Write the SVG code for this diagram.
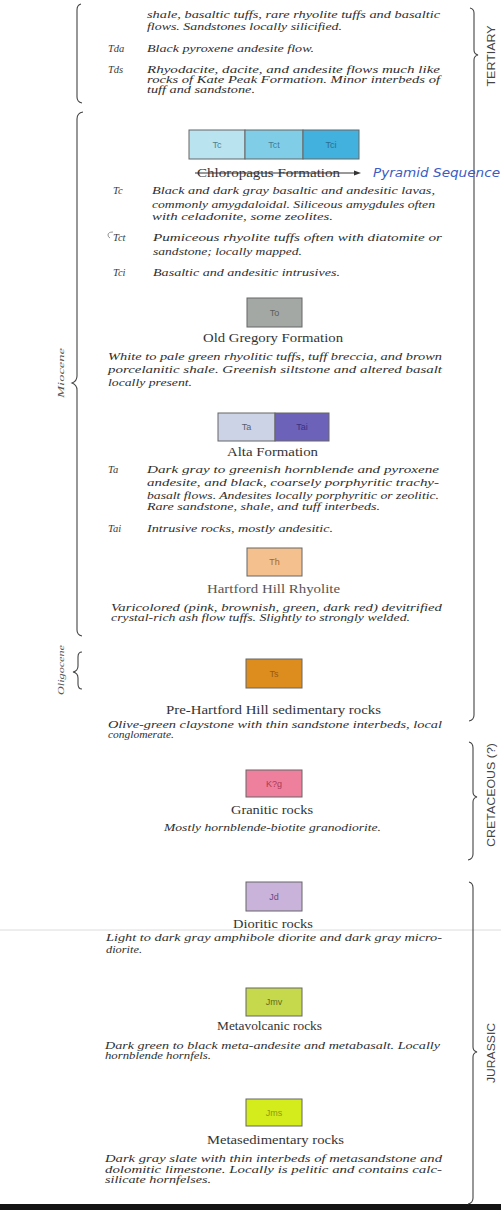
<svg xmlns="http://www.w3.org/2000/svg" width="501" height="1216" viewBox="0 0 501 1216">
<style>
.d{font-family:"Liberation Serif",serif;font-style:italic;font-size:10.5px;fill:#2e2e2e}
.c{font-family:"Liberation Serif",serif;font-style:italic;font-size:10.5px;fill:#3a3a3a}
.t{font-family:"Liberation Serif",serif;font-size:11.5px;fill:#333}
.b{font-family:"Liberation Sans",sans-serif;font-size:9px;text-anchor:middle}
.era{font-family:"Liberation Sans",sans-serif;font-size:11px;fill:#444;text-anchor:middle}
.ep{font-family:"Liberation Serif",serif;font-style:italic;font-size:9px;fill:#555;text-anchor:middle}
.box{stroke:#666;stroke-width:1}
.br{fill:none;stroke:#444;stroke-width:1.1}
.hand{font-family:"DejaVu Sans",sans-serif;font-style:italic;font-size:12px;fill:#3b5cc4}
</style>
<rect width="501" height="1216" fill="#fff"/>
<line x1="0" y1="930" x2="501" y2="930" stroke="#dcdcdc" stroke-width="1"/>
<rect x="0" y="1204" width="501" height="6" fill="#141414"/>

<g id="connectors">
<path class="br" d="M81,4 Q77,5 77,10 L77,97 Q77,102 82,103"/>
<path class="br" d="M83,112 Q77,113 77,119 L77,376 Q77,381 72,383 Q77,385 77,390 L77,630 Q77,635 82,636"/>
<path class="br" d="M82,652 Q78,652 78,657 L78,666 Q78,671 73,672 Q78,673 78,678 L78,684 Q78,689 82,689"/>
<path class="br" d="M470,8 Q474,9 474,13 L474,50 Q474,54 478,55 Q474,56 474,60 L474,715 Q474,720 469,721"/>
<path class="br" d="M469,742 Q473,743 473,748 L473,792 Q473,796 477,797 Q473,798 473,802 L473,854 Q473,859 468,860"/>
<path class="br" d="M469,882 Q473,883 473,888 L473,1047 Q473,1051 477,1052 Q473,1053 473,1057 L473,1198 Q473,1203 468,1204"/>
</g>

<g id="era-labels">
<text class="era" transform="translate(495,56) rotate(-90)" textLength="61" lengthAdjust="spacingAndGlyphs">TERTIARY</text>
<text class="era" transform="translate(495,795) rotate(-90)" textLength="104" lengthAdjust="spacingAndGlyphs">CRETACEOUS (?)</text>
<text class="era" transform="translate(495,1053) rotate(-90)" textLength="60" lengthAdjust="spacingAndGlyphs">JURASSIC</text>
<text class="ep" transform="translate(64,373) rotate(-90)" textLength="50" lengthAdjust="spacingAndGlyphs">Miocene</text>
<text class="ep" transform="translate(64,670) rotate(-90)" textLength="50" lengthAdjust="spacingAndGlyphs">Oligocene</text>
</g>

<g id="unit-top">
<text class="d" x="147" y="18" textLength="293" lengthAdjust="spacingAndGlyphs">shale, basaltic tuffs, rare rhyolite tuffs and basaltic</text>
<text class="d" x="147" y="30" textLength="195" lengthAdjust="spacingAndGlyphs">flows. Sandstones locally silicified.</text>
<text class="c" x="108" y="52">Tda</text>
<text class="d" x="147" y="52" textLength="167" lengthAdjust="spacingAndGlyphs">Black pyroxene andesite flow.</text>
<text class="c" x="108" y="73">Tds</text>
<text class="d" x="147" y="73" textLength="293" lengthAdjust="spacingAndGlyphs">Rhyodacite, dacite, and andesite flows much like</text>
<text class="d" x="147" y="83" textLength="293" lengthAdjust="spacingAndGlyphs">rocks of Kate Peak Formation. Minor interbeds of</text>
<text class="d" x="147" y="93" textLength="108" lengthAdjust="spacingAndGlyphs">tuff and sandstone.</text>
</g>

<g id="unit-chloropagus">
<rect class="box" x="189" y="130" width="56" height="29" fill="#b9e3ef"/>
<rect class="box" x="245" y="130" width="58" height="29" fill="#7fcde6"/>
<rect class="box" x="303" y="130" width="56" height="29" fill="#42b1de"/>
<text class="b" x="217" y="148" fill="#4d7f92">Tc</text>
<text class="b" x="274" y="148" fill="#3f7f99">Tct</text>
<text class="b" x="331" y="148" fill="#2b6f91">Tci</text>
<text class="t" x="197" y="177" textLength="143" lengthAdjust="spacingAndGlyphs">Chloropagus Formation</text>
<line x1="195" y1="173" x2="356" y2="173" stroke="#333" stroke-width="1"/>
<path d="M361,173 L354,170.5 L354,175.5 Z" fill="#333"/>
<text class="hand" x="373" y="177" textLength="127" lengthAdjust="spacingAndGlyphs">Pyramid Sequence</text>
<text class="c" x="113" y="194">Tc</text>
<text class="d" x="152" y="194" textLength="283" lengthAdjust="spacingAndGlyphs">Black and dark gray basaltic and andesitic lavas,</text>
<text class="d" x="152" y="208" textLength="283" lengthAdjust="spacingAndGlyphs">commonly amygdaloidal. Siliceous amygdules often</text>
<text class="d" x="152" y="220" textLength="181" lengthAdjust="spacingAndGlyphs">with celadonite, some zeolites.</text>
<path d="M113,232 Q108,232 108,235 Q108,237 110,238" fill="none" stroke="#777" stroke-width="0.8"/>
<text class="c" x="113" y="241">Tct</text>
<text class="d" x="153" y="241" textLength="289" lengthAdjust="spacingAndGlyphs">Pumiceous rhyolite tuffs often with diatomite or</text>
<text class="d" x="153" y="255" textLength="149" lengthAdjust="spacingAndGlyphs">sandstone; locally mapped.</text>
<text class="c" x="113" y="276">Tci</text>
<text class="d" x="153" y="276" textLength="187" lengthAdjust="spacingAndGlyphs">Basaltic and andesitic intrusives.</text>
</g>

<g id="unit-old-gregory">
<rect class="box" x="247" y="298" width="55" height="29" fill="#a3a8a5"/>
<text class="b" x="274.5" y="316" fill="#5a5f5c">To</text>
<text class="t" x="203" y="342" textLength="140" lengthAdjust="spacingAndGlyphs">Old Gregory Formation</text>
<text class="d" x="108" y="360" textLength="334" lengthAdjust="spacingAndGlyphs">White to pale green rhyolitic tuffs, tuff breccia, and brown</text>
<text class="d" x="108" y="373" textLength="334" lengthAdjust="spacingAndGlyphs">porcelanitic shale. Greenish siltstone and altered basalt</text>
<text class="d" x="108" y="386" textLength="84" lengthAdjust="spacingAndGlyphs">locally present.</text>
</g>

<g id="unit-alta">
<rect class="box" x="218" y="413" width="57" height="28" fill="#ccd3e6"/>
<rect class="box" x="275" y="413" width="54" height="28" fill="#6c62b9"/>
<text class="b" x="246.5" y="430" fill="#5a6070">Ta</text>
<text class="b" x="302" y="430" fill="#3a3185">Tai</text>
<text class="t" x="227" y="456" textLength="91" lengthAdjust="spacingAndGlyphs">Alta Formation</text>
<text class="c" x="108" y="473">Ta</text>
<text class="d" x="147" y="473" textLength="292" lengthAdjust="spacingAndGlyphs">Dark gray to greenish hornblende and pyroxene</text>
<text class="d" x="147" y="486" textLength="292" lengthAdjust="spacingAndGlyphs">andesite, and black, coarsely porphyritic trachy-</text>
<text class="d" x="147" y="499" textLength="292" lengthAdjust="spacingAndGlyphs">basalt flows. Andesites locally porphyritic or zeolitic.</text>
<text class="d" x="147" y="510" textLength="233" lengthAdjust="spacingAndGlyphs">Rare sandstone, shale, and tuff interbeds.</text>
<text class="c" x="108" y="532">Tai</text>
<text class="d" x="147" y="532" textLength="186" lengthAdjust="spacingAndGlyphs">Intrusive rocks, mostly andesitic.</text>
</g>

<g id="unit-hartford-hill">
<rect class="box" x="247" y="548" width="55" height="28" fill="#f3c08e"/>
<text class="b" x="274.5" y="565" fill="#a8682a">Th</text>
<text class="t" x="207" y="593" textLength="133" lengthAdjust="spacingAndGlyphs" style="fill:#555">Hartford Hill Rhyolite</text>
<text class="d" x="111" y="611" textLength="331" lengthAdjust="spacingAndGlyphs">Varicolored (pink, brownish, green, dark red) devitrified</text>
<text class="d" x="111" y="621" textLength="299" lengthAdjust="spacingAndGlyphs">crystal-rich ash flow tuffs. Slightly to strongly welded.</text>
</g>

<g id="unit-pre-hartford">
<rect class="box" x="246" y="659" width="56" height="29" fill="#dc8d1e"/>
<text class="b" x="274" y="677" fill="#9a5a10">Ts</text>
<text class="t" x="166" y="714" textLength="215" lengthAdjust="spacingAndGlyphs">Pre-Hartford Hill sedimentary rocks</text>
<text class="d" x="108" y="728" textLength="334" lengthAdjust="spacingAndGlyphs">Olive-green claystone with thin sandstone interbeds, local</text>
<text class="d" x="108" y="738" textLength="66" lengthAdjust="spacingAndGlyphs">conglomerate.</text>
</g>

<g id="unit-granitic">
<rect class="box" x="246" y="770" width="56" height="27" fill="#ef809d"/>
<text class="b" x="274" y="787" fill="#a83a5a">K?g</text>
<text class="t" x="231" y="814" textLength="82" lengthAdjust="spacingAndGlyphs">Granitic rocks</text>
<text class="d" x="164" y="831" textLength="217" lengthAdjust="spacingAndGlyphs">Mostly hornblende-biotite granodiorite.</text>
</g>

<g id="unit-dioritic">
<rect class="box" x="246" y="882" width="56" height="29" fill="#c9b3da"/>
<text class="b" x="274" y="900" fill="#6a4a86">Jd</text>
<text class="t" x="233" y="928" textLength="80" lengthAdjust="spacingAndGlyphs">Dioritic rocks</text>
<text class="d" x="106" y="941" textLength="336" lengthAdjust="spacingAndGlyphs">Light to dark gray amphibole diorite and dark gray micro-</text>
<text class="d" x="106" y="953" textLength="36" lengthAdjust="spacingAndGlyphs">diorite.</text>
</g>

<g id="unit-metavolcanic">
<rect class="box" x="246" y="988" width="56" height="28" fill="#c6d84c"/>
<text class="b" x="274" y="1005" fill="#5e6e1c">Jmv</text>
<text class="t" x="217" y="1030" textLength="105" lengthAdjust="spacingAndGlyphs">Metavolcanic rocks</text>
<text class="d" x="105" y="1049" textLength="335" lengthAdjust="spacingAndGlyphs">Dark green to black meta-andesite and metabasalt. Locally</text>
<text class="d" x="105" y="1059" textLength="106" lengthAdjust="spacingAndGlyphs">hornblende hornfels.</text>
</g>

<g id="unit-metasedimentary">
<rect class="box" x="246" y="1099" width="56" height="27" fill="#d4ec1c"/>
<text class="b" x="274" y="1116" fill="#8a9a10">Jms</text>
<text class="t" x="207" y="1144" textLength="137" lengthAdjust="spacingAndGlyphs">Metasedimentary rocks</text>
<text class="d" x="105" y="1162" textLength="337" lengthAdjust="spacingAndGlyphs">Dark gray slate with thin interbeds of metasandstone and</text>
<text class="d" x="105" y="1173" textLength="337" lengthAdjust="spacingAndGlyphs">dolomitic limestone. Locally is pelitic and contains calc-</text>
<text class="d" x="105" y="1183" textLength="106" lengthAdjust="spacingAndGlyphs">silicate hornfelses.</text>
</g>
</svg>
